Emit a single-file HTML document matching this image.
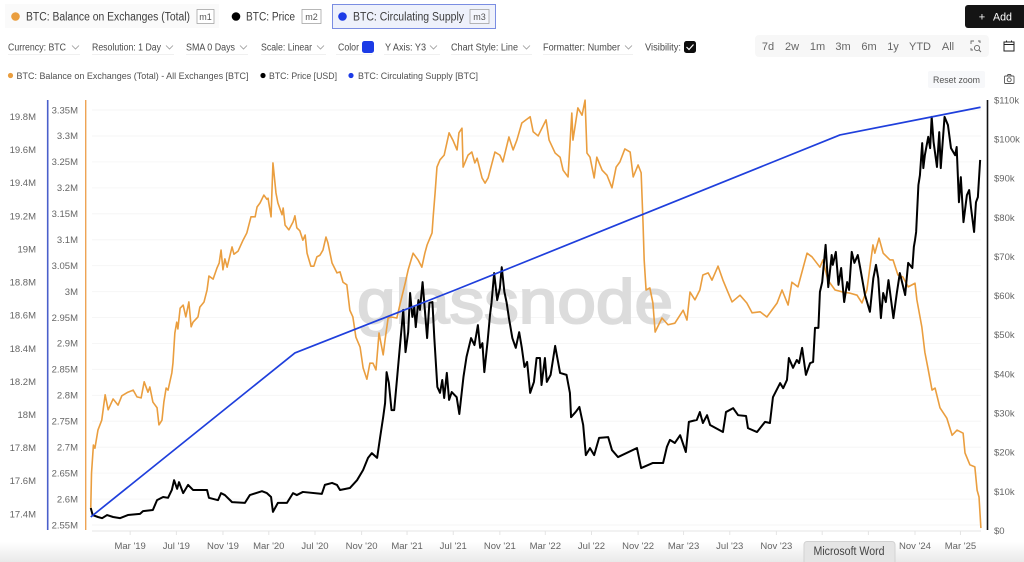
<!DOCTYPE html>
<html lang="en">
<head>
<meta charset="utf-8">
<title>BTC Exchange Balance, Price and Supply</title>
<style>
html,body{margin:0;padding:0;background:#fff;width:1024px;height:562px;overflow:hidden}
svg{display:block;font-family:"Liberation Sans",sans-serif;filter:blur(.3px)}
.ui{fill:#4a4a4a;font-size:10px}
.tab{fill:#3c3c3c;font-size:11.5px}
.badge{fill:#555;font-size:9px;text-anchor:middle}
.range{fill:#666;font-size:11px;text-anchor:middle}
.legend{fill:#505050;font-size:9.5px}
.chev{fill:none;stroke:#999;stroke-width:.8}
.tick{fill:#666;font-size:9.5px}
</style>
</head>
<body>
<svg id="root" xmlns="http://www.w3.org/2000/svg" width="1024" height="562" viewBox="0 0 1024 562">
<defs>
<linearGradient id="bottomFade" x1="0" y1="0" x2="0" y2="1"><stop offset="0" stop-color="#fff"/><stop offset="1" stop-color="#e9e9e9"/></linearGradient>
</defs>
<rect width="1024" height="562" fill="#fff"/>

<g>
<g>
<rect x="5" y="4" width="214" height="24" fill="#fafafa"/>
<circle cx="15.5" cy="16.5" r="4.3" fill="#ea9e3f"/>
<text class="tab" x="26" y="20.5" textLength="164" lengthAdjust="spacingAndGlyphs">BTC: Balance on Exchanges (Total)</text>
<rect x="197" y="9.5" width="17" height="14" fill="#fff" stroke="#999" stroke-width=".7"/>
<text class="badge" x="205.5" y="20">m1</text>
</g>
<g>
<circle cx="236" cy="16.5" r="4.3" fill="#000"/>
<text class="tab" x="246" y="20.5" textLength="49" lengthAdjust="spacingAndGlyphs">BTC: Price</text>
<rect x="302" y="9.5" width="19" height="14" fill="#fff" stroke="#999" stroke-width=".7"/>
<text class="badge" x="311.5" y="20">m2</text>
</g>
<g>
<rect x="332.5" y="4.5" width="163" height="24" fill="#eef1fb" stroke="#7a8de2"/>
<circle cx="342.5" cy="16.5" r="4.3" fill="#1c3be6"/>
<text class="tab" x="353" y="20.5" textLength="111" lengthAdjust="spacingAndGlyphs">BTC: Circulating Supply</text>
<rect x="470" y="9.5" width="19" height="14" fill="#f4f6fd" stroke="#999" stroke-width=".7"/>
<text class="badge" x="479.5" y="20">m3</text>
</g>
</g>

<g>
<rect x="965" y="5" width="62" height="23" rx="3" fill="#141414"/>
<text x="982" y="20.5" fill="#fff" font-size="11" text-anchor="middle">+</text>
<text x="993" y="20.5" fill="#fff" font-size="11" textLength="19" lengthAdjust="spacingAndGlyphs">Add</text>
</g>

<g>
<g><text class="ui" x="8" y="50.5" textLength="58" lengthAdjust="spacingAndGlyphs">Currency: BTC</text><path class="chev" d="M72 45.5l3.5 3.5 3.5-3.5"/><path d="M8 54.5h72" stroke="#f0f0f0"/></g>
<g><text class="ui" x="92" y="50.5" textLength="69" lengthAdjust="spacingAndGlyphs">Resolution: 1 Day</text><path class="chev" d="M166 45.5l3.5 3.5 3.5-3.5"/><path d="M92 54.5h82" stroke="#f0f0f0"/></g>
<g><text class="ui" x="186" y="50.5" textLength="49" lengthAdjust="spacingAndGlyphs">SMA 0 Days</text><path class="chev" d="M240 45.5l3.5 3.5 3.5-3.5"/><path d="M186 54.5h62" stroke="#f0f0f0"/></g>
<g><text class="ui" x="261" y="50.5" textLength="51" lengthAdjust="spacingAndGlyphs">Scale: Linear</text><path class="chev" d="M317 45.5l3.5 3.5 3.5-3.5"/><path d="M261 54.5h65" stroke="#f0f0f0"/></g>
<g><text class="ui" x="338" y="50.5" textLength="21" lengthAdjust="spacingAndGlyphs">Color</text><rect x="362" y="41" width="12" height="12" rx="2.5" fill="#1c3be6"/><path d="M336 54.5h36" stroke="#f0f0f0"/></g>
<g><text class="ui" x="385" y="50.5" textLength="41" lengthAdjust="spacingAndGlyphs">Y Axis: Y3</text><path class="chev" d="M430 45.5l3.5 3.5 3.5-3.5"/><path d="M384 54.5h56" stroke="#f0f0f0"/></g>
<g><text class="ui" x="451" y="50.5" textLength="67" lengthAdjust="spacingAndGlyphs">Chart Style: Line</text><path class="chev" d="M523 45.5l3.5 3.5 3.5-3.5"/><path d="M451 54.5h81" stroke="#f0f0f0"/></g>
<g><text class="ui" x="543" y="50.5" textLength="77" lengthAdjust="spacingAndGlyphs">Formatter: Number</text><path class="chev" d="M625 45.5l3.5 3.5 3.5-3.5"/><path d="M543 54.5h90" stroke="#f0f0f0"/></g>
<g><text class="ui" x="645" y="50.5" textLength="36" lengthAdjust="spacingAndGlyphs">Visibility:</text><rect x="684" y="41" width="12" height="12" rx="2.5" fill="#0c0c0c"/><path d="M686.5 47l2.5 2.5 4.5-5" fill="none" stroke="#fff" stroke-width="1.2"/></g>
</g>

<g>
<rect x="755" y="35" width="234" height="22" rx="4" fill="#f7f7f7"/>
<text class="range" x="768" y="50">7d</text>
<text class="range" x="792" y="50">2w</text>
<text class="range" x="817.5" y="50">1m</text>
<text class="range" x="843" y="50">3m</text>
<text class="range" x="869" y="50">6m</text>
<text class="range" x="893" y="50">1y</text>
<text class="range" x="920" y="50">YTD</text>
<text class="range" x="948" y="50">All</text>
<g fill="none" stroke="#666" stroke-width=".9">
<path d="M971 44v-3h3M978 41h2v2M971 48v2h2" /><circle cx="977" cy="48" r="2.6"/><path d="M979 50l2 2"/>
</g>
<g>
<rect x="996" y="35" width="26" height="22" rx="3" fill="#fff"/>
<rect x="1004" y="42" width="10" height="9" fill="none" stroke="#222" stroke-width="1"/><path d="M1004 44.5h10M1006.5 40.5v2M1011.5 40.5v2" stroke="#222" stroke-width="1"/>
</g>
</g>

<g>
<g><circle cx="10.5" cy="75.5" r="2.6" fill="#ea9e3f"/><text class="legend" x="16.5" y="79" textLength="232" lengthAdjust="spacingAndGlyphs">BTC: Balance on Exchanges (Total) - All Exchanges [BTC]</text></g>
<g><circle cx="263" cy="75.5" r="2.6" fill="#000"/><text class="legend" x="269" y="79" textLength="68" lengthAdjust="spacingAndGlyphs">BTC: Price [USD]</text></g>
<g><circle cx="351" cy="75.5" r="2.6" fill="#1c3be6"/><text class="legend" x="358" y="79" textLength="120" lengthAdjust="spacingAndGlyphs">BTC: Circulating Supply [BTC]</text></g>
</g>

<g>
<rect x="928" y="71" width="57" height="17" rx="2" fill="#f7f8fa"/>
<text x="933" y="83" fill="#555" font-size="9.5" textLength="47" lengthAdjust="spacingAndGlyphs">Reset zoom</text>
</g>
<g fill="none" stroke="#555" stroke-width=".9">
<rect x="1004.5" y="76" width="9.5" height="7.5" rx="1"/><circle cx="1009.2" cy="79.8" r="2"/><path d="M1007 76l1-1.5h2.5l1 1.5"/>
</g>

<g id="grid"></g>
<text x="357" y="323" font-size="62" fill="#dcdcdc" stroke="#dcdcdc" stroke-width="2" textLength="316" lengthAdjust="spacingAndGlyphs">glassnode</text>
<g id="axes"></g>
<g id="series"></g>

<rect x="0" y="542" width="1024" height="20" fill="url(#bottomFade)" style="mix-blend-mode:multiply"/>
<g>
<rect x="804" y="541.5" width="91" height="24" rx="3" fill="#e5e5e5" stroke="#d2d2d2"/>
<text x="813.5" y="555" fill="#444" font-size="11.5" textLength="71" lengthAdjust="spacingAndGlyphs">Microsoft Word</text>
</g>
</svg>

<script>
const startDate = '2018-11-15';
const xTickLabels = ["Mar '19","Jul '19","Nov '19","Mar '20","Jul '20","Nov '20","Mar '21","Jul '21","Nov '21","Mar '22","Jul '22","Nov '22","Mar '23","Jul '23","Nov '23","Mar '24","Jul '24","Nov '24","Mar '25"];
const xTickDates = ['2019-03-01','2019-07-01','2019-11-01','2020-03-01','2020-07-01','2020-11-01','2021-03-01','2021-07-01','2021-11-01','2022-03-01','2022-07-01','2022-11-01','2023-03-01','2023-07-01','2023-11-01','2024-03-01','2024-07-01','2024-11-01','2025-03-01'];

const balanceTicks = [3.35,3.3,3.25,3.2,3.15,3.1,3.05,3,2.95,2.9,2.85,2.8,2.75,2.7,2.65,2.6,2.55];
const balanceTickLabels = ['3.35M','3.3M','3.25M','3.2M','3.15M','3.1M','3.05M','3M','2.95M','2.9M','2.85M','2.8M','2.75M','2.7M','2.65M','2.6M','2.55M'];
const supplyTicks = [19.8,19.6,19.4,19.2,19,18.8,18.6,18.4,18.2,18,17.8,17.6,17.4];
const supplyTickLabels = ['19.8M','19.6M','19.4M','19.2M','19M','18.8M','18.6M','18.4M','18.2M','18M','17.8M','17.6M','17.4M'];
const priceTicks = [110,100,90,80,70,60,50,40,30,20,10,0];
const priceTickLabels = ['$110k','$100k','$90k','$80k','$70k','$60k','$50k','$40k','$30k','$20k','$10k','$0'];

// Days since startDate and exchange balance in millions of BTC
const balanceDays = [2,4,9,13,21,31,40,48,61,74,84,100,114,124,135,143,153,158,166,177,182,190,195,201,206,216,219,224,229,232,238,246,253,261,267,272,285,290,301,309,314,325,335,341,346,351,356,362,375,380,391,404,414,425,436,441,449,459,467,470,478,483,491,496,507,510,515,525,536,541,546,554,562,568,573,583,591,599,607,615,623,628,639,652,660,668,678,686,694,702,713,721,731,739,747,755,763,774,779,787,795,810,818,832,840,853,866,876,884,890,903,906,911,916,924,935,948,958,969,974,982,985,998,1008,1016,1022,1035,1043,1051,1069,1082,1090,1106,1117,1127,1140,1162,1170,1183,1204,1212,1228,1241,1249,1262,1272,1275,1288,1299,1307,1312,1320,1331,1338,1352,1365,1378,1389,1399,1412,1426,1434,1447,1455,1460,1463,1468,1478,1486,1492,1510,1526,1544,1558,1566,1576,1584,1597,1610,1618,1632,1642,1658,1671,1684,1695,1716,1734,1748,1769,1787,1814,1827,1843,1853,1869,1893,1906,1927,1935,1948,1967,1988,2006,2025,2038,2051,2067,2072,2083,2094,2112,2120,2133,2146,2160,2178,2183,2196,2204,2212,2223,2231,2244,2262,2276,2289,2305,2310,2323,2336,2342,2347,2352];
const balanceValues = [2.583,2.650,2.704,2.698,2.733,2.752,2.801,2.772,2.793,2.781,2.799,2.806,2.810,2.797,2.795,2.826,2.806,2.816,2.787,2.776,2.743,2.752,2.787,2.814,2.810,2.843,2.862,2.920,2.941,2.928,2.968,2.974,2.951,2.980,2.932,2.941,2.951,2.970,2.980,3.003,3.030,3.024,3.045,3.055,3.080,3.042,3.063,3.047,3.086,3.072,3.078,3.099,3.113,3.144,3.144,3.163,3.171,3.186,3.178,3.180,3.144,3.248,3.190,3.171,3.148,3.161,3.128,3.119,3.134,3.146,3.123,3.117,3.099,3.109,3.074,3.049,3.049,3.067,3.070,3.080,3.105,3.094,3.055,3.036,3.038,3.018,3.013,2.964,2.951,2.912,2.893,2.853,2.831,2.862,2.862,2.849,2.920,2.878,2.907,2.949,2.951,2.949,2.974,3.016,3.042,3.074,3.061,3.047,3.074,3.090,3.113,3.144,3.190,3.240,3.254,3.263,3.306,3.292,3.273,3.306,3.315,3.240,3.263,3.269,3.248,3.257,3.219,3.209,3.219,3.269,3.263,3.250,3.298,3.273,3.292,3.325,3.337,3.308,3.300,3.331,3.292,3.267,3.259,3.234,3.221,3.344,3.292,3.354,3.340,3.369,3.267,3.259,3.219,3.259,3.234,3.224,3.200,3.240,3.250,3.275,3.269,3.221,3.244,3.229,3.132,3.061,3.003,3.007,2.978,2.922,2.949,2.936,2.939,2.955,2.964,2.945,2.999,2.984,3.003,3.032,3.036,3.022,3.049,3.022,2.999,2.980,2.993,2.978,2.959,2.961,2.951,2.978,3.003,2.974,3.018,3.009,3.074,3.067,3.047,3.061,3.022,3.003,2.999,2.997,2.993,2.978,3.003,3.090,3.074,3.103,3.074,3.061,3.061,3.032,3.028,3.009,3.016,2.984,2.932,2.883,2.853,2.810,2.814,2.776,2.756,2.723,2.733,2.727,2.689,2.666,2.662,2.617,2.604,2.544];

// Days since startDate and BTC price in thousands of USD
const priceDays = [2,7,21,32,45,61,79,100,132,140,166,177,193,206,216,222,230,235,246,259,272,290,309,314,338,346,356,375,409,422,454,467,478,483,496,520,536,546,562,612,620,639,652,660,686,705,721,734,744,758,766,774,
779,783,789,796,803,811,818,827,833,840,845,851,856,860,867,871,878,884,890,896,904,909,917,924,930,935,942,948,955,968,975,986,994,1006,1015,1024,1030,1036,1041,1050,1056,1060,1067,1075,1082,1087,1094,1100,1106,1115,1124,1133,1140,1147,1154,1162,1172,1179,1188,1192,1201,1206,1216,1228,1241,1258,1267,1270,1282,1292,1302,
1309,1320,1331,1344,1368,1378,1394,1444,1455,1486,1513,1523,1531,1544,1558,1573,1581,1602,1610,1618,1629,1637,1671,1679,1698,1711,1732,1737,1761,1782,1795,1803,1822,1830,1840,1845,1856,1866,1872,1880,1890,1901,1909,
1914,1923,1927,1933,1942,1949,1958,1961,1969,1976,1983,1991,1999,2004,2011,2018,2027,2033,2046,2059,2068,2075,2081,2088,2094,2101,2108,2121,2130,2138,2152,2160,2171,2175,
2178,2181,2187,2191,2197,2200,2204,2213,2218,2222,2227,2236,2242,2246,2256,2265,2273,2284,2288,2294,2299,2306,2315,2321,2326,2334,2339,2344,2350];
const priceValues = [5.8,4.0,3.5,3.2,4.0,3.5,3.2,4.0,4.3,5.0,5.3,7.8,8.6,8.4,10.4,12.9,10.7,12.4,9.6,11.7,10.4,10.4,10.4,8.4,7.8,9.6,9.1,7.3,7.1,9.1,10.1,9.6,8.6,4.8,7.1,7.1,9.6,9.1,9.9,9.4,11.7,12.2,11.7,10.4,10.9,12.9,15.5,18.6,19.8,18.6,23.9,29.0,
32.6,40.5,37.7,30.8,30.8,39.3,46.9,56.4,45.6,50.7,60.7,54.6,57.1,52.0,58.9,56.4,63.5,56.4,49.2,58.2,58.4,49.2,36.7,35.2,38.5,33.9,40.3,33.4,35.4,34.1,29.8,39.3,44.4,49.2,47.4,52.5,46.7,47.9,40.5,48.7,55.1,58.2,65.8,58.9,61.9,67.3,61.0,58.2,54.3,49.2,46.7,50.7,46.7,41.8,43.1,35.2,38.0,44.1,44.1,37.2,44.1,38.0,39.8,47.2,40.3,39.8,35.2,29.0,30.3,31.6,27.0,
19.3,21.1,19.3,23.7,23.9,20.6,18.8,21.1,16.0,17.3,17.3,21.4,23.2,22.4,24.4,20.1,27.8,28.3,30.3,27.5,29.5,27.0,25.2,30.3,31.3,29.5,29.3,26.2,25.2,27.8,27.5,34.1,37.7,36.4,38.5,44.1,41.6,43.6,42.8,46.7,39.8,42.8,43.1,
51.8,51.8,61.0,63.5,73.0,62.2,70.4,67.9,71.2,62.8,67.1,58.4,63.5,61.5,71.2,68.4,70.4,67.3,60.2,55.9,64.5,67.9,64.5,54.3,60.7,58.4,64.0,54.3,60.7,65.8,60.2,68.4,67.1,72.5,
74.2,76.3,88.3,90.8,99.0,92.6,95.9,100.6,97.7,105.7,99.3,92.9,101.8,92.6,105.7,103.6,97.7,95.9,98.0,83.9,90.3,78.8,85.7,87.0,82.4,76.3,83.9,85.2,94.7];

// Days since startDate and circulating supply in millions of BTC
const supplyDays = [2,541,964,1980,2351];
const supplyValues = [17.382,18.373,18.753,19.690,19.857];

const NS = 'http://www.w3.org/2000/svg';
const dayMs = 86400000;
const startMs = Date.parse(startDate);
const xScale = d => 90 + d / 2.64;
const yBalance = v => 525 - (v - 2.55) / 0.8 * 415;
const ySupply = v => 514 - (v - 17.4) / 2.4 * 397.3;
const yPrice = v => 530.7 - v / 110 * 430.7;

const grid = document.getElementById('grid');
const axes = document.getElementById('axes');
const series = document.getElementById('series');

function make(tag, attrs, parent, text) {
  const el = document.createElementNS(NS, tag);
  for (const k in attrs) el.setAttribute(k, attrs[k]);
  if (text !== undefined) el.textContent = text;
  parent.appendChild(el);
  return el;
}

balanceTicks.forEach((v) => {
  const line = make('line', {x1: 92, x2: 981, y1: yBalance(v), y2: yBalance(v), stroke: '#f6f6f6', 'stroke-width': 1}, grid);
  
  
});

const supplyAxis = make('line', {x1: 47.7, x2: 47.7, y1: 100, y2: 530, stroke: '#4a5fcb', 'stroke-width': 1.6}, axes);


const balanceAxis = make('line', {x1: 85.7, x2: 85.7, y1: 100, y2: 530, stroke: '#eea454', 'stroke-width': 1.4}, axes);


const priceAxis = make('line', {x1: 987.5, x2: 987.5, y1: 100, y2: 530, stroke: '#111', 'stroke-width': 1.6}, axes);


const xAxisLine = make('line', {x1: 92, x2: 981, y1: 531, y2: 531, stroke: '#e4e4e4', 'stroke-width': 1}, axes);



supplyTicks.forEach((v, i) => {
  const t = make('text', {class: 'tick', x: 36, y: ySupply(v) + 3.3, 'text-anchor': 'end'}, axes, supplyTickLabels[i]);
  
  
});
balanceTicks.forEach((v, i) => {
  const t = make('text', {class: 'tick', x: 78, y: yBalance(v) + 3.3, 'text-anchor': 'end'}, axes, balanceTickLabels[i]);
  
  
});
priceTicks.forEach((v, i) => {
  const t = make('text', {class: 'tick', x: 994, y: yPrice(v) + 3.3}, axes, priceTickLabels[i]);
  
  
});
xTickDates.forEach((d, i) => {
  const x = xScale((Date.parse(d) - startMs) / dayMs);
  const mark = make('line', {x1: x, x2: x, y1: 531, y2: 535, stroke: '#e4e4e4'}, axes);
  
  
  const t = make('text', {class: 'tick', x: x, y: 549, 'text-anchor': 'middle'}, axes, xTickLabels[i]);
  
  
});

function linePath(days, values, yScale) {
  return days.map((d, i) => (i ? 'L' : 'M') + xScale(d).toFixed(2) + ' ' + yScale(values[i]).toFixed(2)).join('');
}

const balanceLine = make('path', {d: linePath(balanceDays, balanceValues, yBalance), fill: 'none', stroke: '#ea9e3f', 'stroke-width': 1.6, 'stroke-linejoin': 'round'}, series);


const priceLine = make('path', {d: linePath(priceDays, priceValues, yPrice), fill: 'none', stroke: '#000', 'stroke-width': 2, 'stroke-linejoin': 'round'}, series);


const supplyLine = make('path', {d: linePath(supplyDays, supplyValues, ySupply), fill: 'none', stroke: '#1f3fdc', 'stroke-width': 1.7, 'stroke-linejoin': 'round'}, series);


</script>
</body>
</html>
